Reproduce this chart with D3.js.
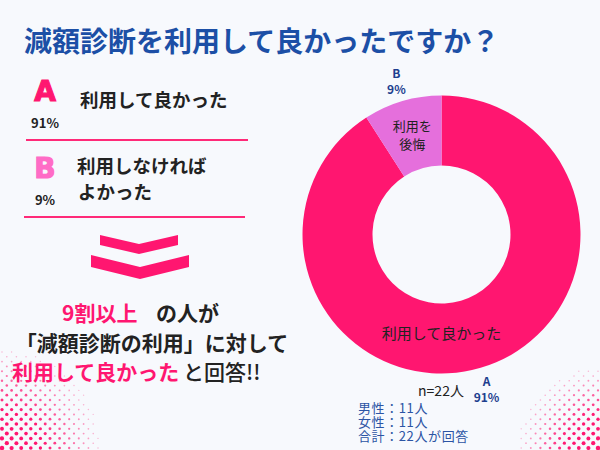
<!DOCTYPE html>
<html>
<head>
<meta charset="utf-8">
<script src="https://cdn.jsdelivr.net/npm/d3@7"></script>
<style>
  body { margin: 0; background: #f7f9fd; }
  svg { display: block; font-family: "Noto Sans CJK JP", "Noto Sans", sans-serif; }
</style>
</head>
<body>
<div id="chart"></div>
<script>
const WIDTH = 600;
const HEIGHT = 450;

// data
const categories = ["A", "B"];
const answers = ["利用して良かった", "利用しなければよかった"];
const sliceLabels = [["利用して良かった"], ["利用を", "後悔"]];
const counts = [20, 2];
const percents = [91, 9];
const genders = ["男性", "女性"];
const genderCounts = [11, 11];
const total = 22;

const PINK = "#ff1670";
const LIGHT = "#e56fdc";
const BLUE = "#1c4fa6";
const NAVY = "#1e3f8f";

const svg = d3.select("#chart")
  .append("svg")
  .attr("width", WIDTH)
  .attr("height", HEIGHT);

svg.append("rect").attr("width", WIDTH).attr("height", HEIGHT).attr("fill", "#f7f9fd");

// halftone dots in the two bottom corners
const halftone = (corner, R) => {
  const pts = [];
  const side = corner[0] === 0 ? 1 : -1;
  d3.range(0, Math.ceil(R / 4.8)).forEach(row => {
    d3.range(0, Math.ceil(R / 9.6) + 1).forEach(k => {
      const px = corner[0] + side * (2 + (row % 2) * 4.8 + k * 9.6);
      const py = corner[1] - 2 - row * 4.8;
      const dist = Math.hypot(px - corner[0], py - corner[1]);
      if (dist < R) pts.push([px, py, 1 - dist / R]);
    });
  });
  return pts;
};
const dotData = halftone([0, HEIGHT], 100).concat(halftone([WIDTH, HEIGHT], 82));
const dotLayer = svg.append("g").attr("class", "dots");
dotData.forEach(d => {
  dotLayer.append("circle")
    .attr("cx", d[0])
    .attr("cy", d[1])
    .attr("r", 0.7 + 1.6 * d[2])
    .attr("fill", PINK)
    .attr("opacity", Math.min(1, 0.25 + d[2] * 1.3));
});

// title
svg.append("text")
  .attr("x", 24).attr("y", 40)
  .attr("dominant-baseline", "central")
  .attr("font-size", 28).attr("font-weight", 700)
  .attr("fill", BLUE)
  .text("減額診断を利用して良かったですか？");

// left legend
const letterColors = [PINK, "#ff6cc6"];
const rowY = [0, 77];
const legend = svg.append("g");
categories.forEach((c, i) => {
  const g = legend.append("g").attr("transform", `translate(0,${rowY[i]})`);
  g.append("text")
    .attr("x", 45).attr("y", 101)
    .attr("text-anchor", "middle")
    .attr("font-family", "'DejaVu Sans', sans-serif")
    .attr("font-size", 28).attr("font-weight", 700)
    .attr("fill", letterColors[i])
    .attr("stroke", letterColors[i]).attr("stroke-width", 1.2)
    .text(c);
  g.append("text")
    .attr("x", 45).attr("y", 122)
    .attr("text-anchor", "middle").attr("dominant-baseline", "central")
    .attr("font-size", 13).attr("font-weight", 700)
    .attr("fill", "#222")
    .text(percents[i] + "%");
  g.append("line")
    .attr("x1", 26 - i * 2).attr("x2", 248 - i * 3)
    .attr("y1", 140).attr("y2", 140)
    .attr("stroke", "#ff2a78").attr("stroke-width", 2);
});
const legendText = legend.append("g")
  .attr("font-size", 18.5).attr("font-weight", 700).attr("fill", "#222")
  .attr("dominant-baseline", "central");
legendText.append("text").attr("x", 80).attr("y", 99).text(answers[0]);
legendText.append("text").attr("x", 77).attr("y", 165).text(answers[1].slice(0, 7));
legendText.append("text").attr("x", 78).attr("y", 191).text(answers[1].slice(7));

// chevrons
const chevron = (cx, top, half, depth, thick) =>
  `M${cx - half},${top} L${cx},${top + depth} L${cx + half},${top}` +
  ` L${cx + half},${top + thick} L${cx},${top + depth + thick} L${cx - half},${top + thick} Z`;
svg.append("path").attr("d", chevron(139, 235, 39, 9, 10)).attr("fill", PINK);
svg.append("path").attr("d", chevron(140, 255, 49, 12, 12)).attr("fill", PINK);

// summary text
const summary = svg.append("g")
  .attr("font-size", 21).attr("font-weight", 700)
  .attr("dominant-baseline", "central");
summary.append("text").attr("x", 62).attr("y", 312).attr("fill", PINK).text("9割以上");
summary.append("text").attr("x", 156).attr("y", 312).attr("fill", "#222").text("の人が");
summary.append("text").attr("x", 152).attr("y", 342).attr("text-anchor", "middle").attr("fill", "#222")
  .text("「減額診断の利用」に対して");
summary.append("text").attr("x", 12).attr("y", 371).attr("fill", PINK).text(answers[0]);
summary.append("text").attr("x", 183).attr("y", 371).attr("fill", "#222").attr("font-weight", 500).text("と回答!!");

// donut
const cx = 441.5, cy = 234.5;
const outer = 139, inner = 69;
const pie = d3.pie().sort(null).value(d => d);
const arcs = pie(counts);
const arc = d3.arc().innerRadius(inner).outerRadius(outer);
const colors = d3.scaleOrdinal().domain(categories).range([PINK, LIGHT]);

const donut = svg.append("g").attr("transform", `translate(${cx},${cy})`);
donut.selectAll("path")
  .data(arcs)
  .join("path")
  .attr("d", arc)
  .attr("fill", (d, i) => colors(categories[i]));

// inner labels
const mid = d => (d.startAngle + d.endAngle) / 2;
const innerPos = (d, i) => i === 0 ? d3.pointRadial(Math.PI, 98) : arc.centroid(d);
arcs.forEach((d, i) => {
  const [x, y] = innerPos(d, i);
  const lines = sliceLabels[i];
  donut.append("text")
    .attr("text-anchor", "middle")
    .attr("font-size", i === 0 ? 15 : 13)
    .attr("fill", "#222")
    .selectAll("tspan")
    .data(lines)
    .join("tspan")
    .attr("x", x)
    .attr("y", (l, j) => y + (j - (lines.length - 1) / 2) * 18)
    .attr("dominant-baseline", "central")
    .text(l => l);
});

// outer labels
arcs.forEach((d, i) => {
  const [x, y] = d3.pointRadial(mid(d), 160);
  const t = donut.append("text")
    .attr("text-anchor", "middle")
    .attr("font-size", 12).attr("font-weight", 700)
    .attr("fill", NAVY);
  t.append("tspan").attr("x", x).attr("y", y - 8).attr("dominant-baseline", "central").text(categories[i]);
  t.append("tspan").attr("x", x).attr("y", y + 8).attr("dominant-baseline", "central").text(percents[i] + "%");
});

// n and breakdown
svg.append("text")
  .attr("x", 441).attr("y", 390)
  .attr("text-anchor", "middle").attr("dominant-baseline", "central")
  .attr("font-size", 14).attr("fill", "#222")
  .text(`n=${total}人`);

const breakdown = genders.map((g, i) => `${g}：${genderCounts[i]}人`)
  .concat([`合計：${d3.sum(genderCounts)}人が回答`]);
svg.append("g")
  .selectAll("text")
  .data(breakdown)
  .join("text")
  .attr("x", 358)
  .attr("y", (d, i) => 407 + i * 14.2)
  .attr("dominant-baseline", "central")
  .attr("font-size", 13)
  .attr("letter-spacing", 0.6)
  .attr("fill", "#2c54a4")
  .text(d => d);
</script>
</body>
</html>
